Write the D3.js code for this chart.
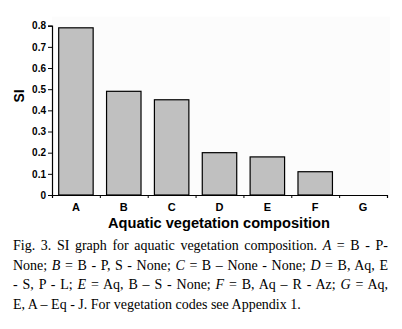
<!DOCTYPE html>
<html>
<head>
<meta charset="utf-8">
<script src="https://cdn.jsdelivr.net/npm/d3@7"></script>
<style>
  body { margin: 0; background: #fff; }
  svg { display: block; }
</style>
</head>
<body>
<svg width="402" height="329"></svg>
<script>
// chart values
var categories = ["A", "B", "C", "D", "E", "F", "G"];
var siValues = [0.79, 0.49, 0.45, 0.20, 0.18, 0.11, 0];
var yTicks = [0, 0.1, 0.2, 0.3, 0.4, 0.5, 0.6, 0.7, 0.8];
var xTitle = "Aquatic vegetation composition";
var yTitle = "SI";
// caption lines, [text, italic] pieces
var captionLines = [
    [["Fig. 3. SI graph for aquatic vegetation composition. ", 0], ["A", 1], [" = B - P-", 0]],
    [["None; ", 0], ["B", 1], [" = B - P, S - None; ", 0], ["C", 1], [" = B \u2013 None - None; ", 0], ["D", 1], [" = B, Aq, E", 0]],
    [["- S, P - L; ", 0], ["E", 1], [" = Aq, B \u2013 S - None; ", 0], ["F", 1], [" = B, Aq \u2013 R - Az; ", 0], ["G", 1], [" = Aq,", 0]],
    [["E, A \u2013 Eq - J. For vegetation codes see Appendix 1.", 0]]
];

var svg = d3.select("svg"),
    plotLeft = 52, plotRight = 387, plotTop = 25.7, plotBottom = 195;

var x = d3.scaleBand().domain(categories).range([plotLeft, plotRight])
    .paddingInner(0.28).paddingOuter(0.14);
var xb = d3.scaleLinear().domain([0, categories.length]).range([plotLeft, plotRight]);
var y = d3.scaleLinear().domain([0, 0.8]).range([plotBottom, plotTop]);

// plot area
svg.append("rect")
    .attr("x", plotLeft).attr("y", plotTop - 9)
    .attr("width", plotRight - plotLeft + 3).attr("height", plotBottom - plotTop + 9)
    .attr("fill", "#fcfcfc");

svg.selectAll(".bar")
    .data(siValues)
    .enter().append("rect")
    .attr("class", "bar")
    .attr("x", function (d, i) { return x(categories[i]); })
    .attr("width", x.bandwidth())
    .attr("y", function (d) { return y(d); })
    .attr("height", function (d) { return plotBottom - y(d); })
    .attr("fill", "#c0c0c0")
    .attr("stroke", "#000")
    .attr("stroke-width", 1.2);

// y axis
var gy = svg.append("g")
    .attr("transform", "translate(" + plotLeft + ",0)")
    .call(d3.axisLeft(y).tickValues(yTicks).tickSize(4).tickPadding(2)
        .tickFormat(d3.format("")));
gy.select(".domain").attr("stroke-width", 1.2);
gy.selectAll("text")
    .attr("font-family", "Liberation Sans, Arial, sans-serif")
    .attr("font-weight", "bold")
    .attr("font-size", 10)
    .attr("fill", "#000");

// x axis: ticks at category boundaries
var gx = svg.append("g")
    .attr("transform", "translate(0," + plotBottom + ")")
    .call(d3.axisBottom(xb).ticks(categories.length).tickSize(3).tickSizeOuter(3)
        .tickFormat(""));
gx.select(".domain").attr("stroke-width", 1.2);

svg.selectAll(".xlab")
    .data(categories)
    .enter().append("text")
    .attr("class", "xlab")
    .attr("x", function (d) { return x(d) + x.bandwidth() / 2; })
    .attr("y", 211)
    .attr("text-anchor", "middle")
    .attr("font-family", "Liberation Sans, Arial, sans-serif")
    .attr("font-weight", "bold")
    .attr("font-size", 11)
    .text(function (d) { return d; });

svg.append("text")
    .attr("x", 219).attr("y", 228)
    .attr("text-anchor", "middle")
    .attr("font-family", "Liberation Sans, Arial, sans-serif")
    .attr("font-weight", "bold")
    .attr("font-size", 14)
    .attr("textLength", 222)
    .attr("lengthAdjust", "spacingAndGlyphs")
    .text(xTitle);

svg.append("text")
    .attr("transform", "translate(24,96) rotate(-90)")
    .attr("text-anchor", "middle")
    .attr("font-family", "Liberation Sans, Arial, sans-serif")
    .attr("font-weight", "bold")
    .attr("font-size", 14)
    .text(yTitle);

// caption, justified lines
var capLeft = 13, capRight = 388;
captionLines.forEach(function (line, li) {
    var t = svg.append("text")
        .attr("x", capLeft)
        .attr("y", 250 + li * 19.5)
        .attr("font-family", "Liberation Serif, Times New Roman, serif")
        .attr("font-size", 14)
        .attr("fill", "#000");
    line.forEach(function (p) {
        t.append("tspan")
            .attr("font-style", p[1] ? "italic" : "normal")
            .text(p[0]);
    });
    if (li < captionLines.length - 1) {
        var full = line.map(function (p) { return p[0]; }).join("");
        var spaces = full.split(" ").length - 1;
        var w = t.node().getComputedTextLength();
        t.attr("word-spacing", (capRight - capLeft - w) / spaces);
    }
});
</script>
</body>
</html>
